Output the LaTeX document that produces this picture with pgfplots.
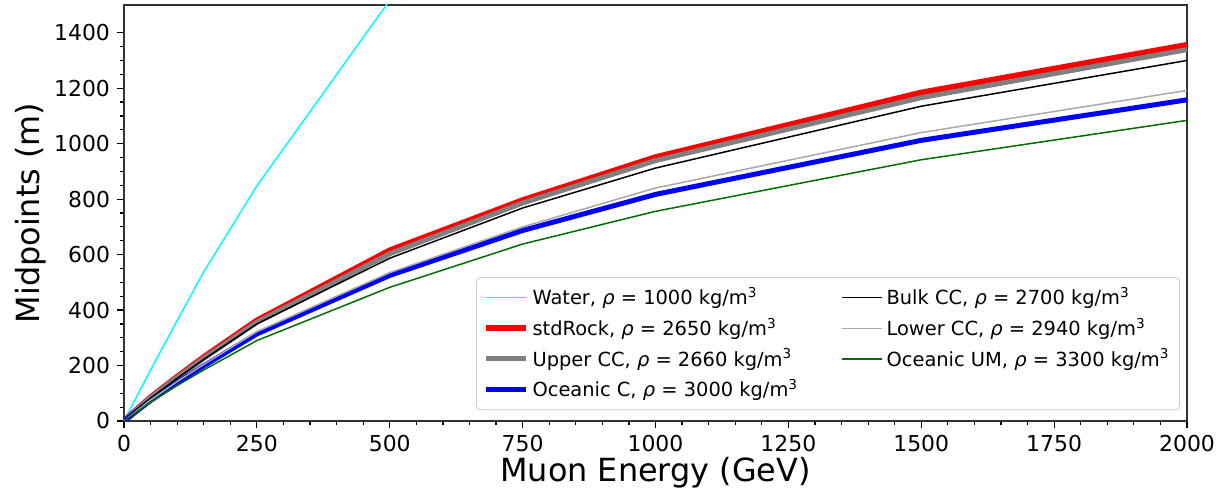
\documentclass[border=0pt]{standalone}
\usepackage{fontspec}
\setmainfont{DejaVu Sans}
\usepackage{pgfplots}
\pgfplotsset{compat=1.18}
\definecolor{wcyan}{RGB}{0,255,255}
\definecolor{rred}{RGB}{255,0,0}
\definecolor{ugray}{RGB}{128,128,128}
\definecolor{oblue}{RGB}{0,0,255}
\definecolor{lgray}{RGB}{169,169,169}
\definecolor{dgreen}{RGB}{0,110,0}

\begin{document}
\begin{tikzpicture}
\begin{axis}[
  scale only axis,
  width=531.5bp, height=208bp,
  xmin=0, xmax=2000, ymin=0, ymax=1500,
  xtick={0,250,...,2000}, ytick={0,200,...,1400},
  minor x tick num=4, minor y tick num=3,
  tick align=outside, xtick pos=bottom, ytick pos=left,
  major tick length=3.5bp, minor tick length=2bp,
  every tick/.style={black, line width=0.6bp},
  axis line style={black!80, line width=0.8bp},
  ticklabel style={font=\fontsize{11}{13}\selectfont},
  /pgf/number format/assume math mode=true,
  /pgf/number format/1000 sep={},
  xlabel={Muon Energy (GeV)}, ylabel={Midpoints (m)},
  label style={font=\fontsize{16}{19}\selectfont},
  xlabel style={at={(axis description cs:0.5,-0.125)}, anchor=center},
  ylabel style={at={(axis description cs:-0.0875,0.5)}, anchor=center},
  legend columns=2,
  legend cell align=left,
  legend style={at={(axis description cs:0.9934,0.026)}, anchor=south east,
    font=\fontsize{9.75}{12}\selectfont, draw=black!20, fill=white,
    rounded corners=2bp, inner xsep=3bp, inner ysep=3bp, row sep=1.2bp,
    /tikz/every even column/.append style={column sep=19.5bp}},
  legend image code/.code={\draw[#1] (0bp,0bp) -- (20bp,0bp);},
]
% legend entries, row by row
\addlegendimage{wcyan, line width=0.75bp}
\addlegendentry{Water, \textit{ρ} = 1000 kg/m\textsuperscript{3}}
\addlegendimage{black, line width=0.75bp}
\addlegendentry{Bulk CC, \textit{ρ} = 2700 kg/m\textsuperscript{3}}
\addlegendimage{rred, line width=3bp}
\addlegendentry{stdRock, \textit{ρ} = 2650 kg/m\textsuperscript{3}}
\addlegendimage{lgray, line width=0.75bp}
\addlegendentry{Lower CC, \textit{ρ} = 2940 kg/m\textsuperscript{3}}
\addlegendimage{ugray, line width=2.5bp}
\addlegendentry{Upper CC, \textit{ρ} = 2660 kg/m\textsuperscript{3}}
\addlegendimage{dgreen, line width=0.75bp}
\addlegendentry{Oceanic UM, \textit{ρ} = 3300 kg/m\textsuperscript{3}}
\addlegendimage{oblue, line width=2.5bp}
\addlegendentry{Oceanic C, \textit{ρ} = 3000 kg/m\textsuperscript{3}}

% curves
\addplot[forget plot, wcyan, line width=0.75bp] coordinates {
  (0,0) (50,184) (100,362) (150,538) (250,848) (500,1517)
};
\addplot[forget plot, rred, line width=3bp] coordinates {
  (0,0) (50,85) (100,159) (150,230) (250,362) (500,615) (750,796) (1000,951) (1500,1184) (2000,1356)
};
\addplot[forget plot, ugray, line width=2.5bp] coordinates {
  (0,0) (50,84) (100,157) (150,226) (250,356) (500,603) (750,786) (1000,939) (1500,1166) (2000,1339)
};
\addplot[forget plot, oblue, line width=2.5bp] coordinates {
  (0,0) (50,74) (100,138) (150,199) (250,314) (500,525) (750,687) (1000,817) (1500,1012) (2000,1158)
};
\addplot[forget plot, black, line width=0.75bp] coordinates {
  (0,0) (50,82) (100,154) (150,222) (250,350) (500,587) (750,768) (1000,912) (1500,1135) (2000,1300)
};
\addplot[forget plot, lgray, line width=0.75bp] coordinates {
  (0,0) (50,76) (100,142) (150,204) (250,322) (500,535) (750,700) (1000,840) (1500,1040) (2000,1192)
};
\addplot[forget plot, dgreen, line width=0.75bp] coordinates {
  (0,0) (50,68) (100,128) (150,184) (250,290) (500,482) (750,638) (1000,756) (1500,942) (2000,1084)
};
\coordinate (bl) at (rel axis cs:0,0);
\coordinate (tr) at (rel axis cs:1,1);
\end{axis}
\pgfresetboundingbox
\path ([xshift=-62bp,yshift=-40bp]bl) rectangle ([xshift=19bp,yshift=2.5bp]tr);
\end{tikzpicture}
\end{document}
